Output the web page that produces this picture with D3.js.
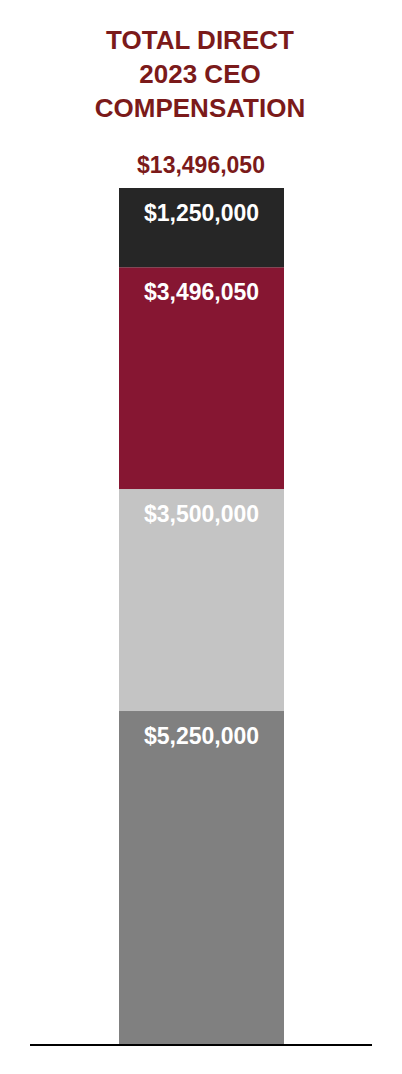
<!DOCTYPE html>
<html>
<head>
<meta charset="utf-8">
<script src="https://cdn.jsdelivr.net/npm/d3@7"></script>
<style>
html,body{margin:0;padding:0;background:#fff;}
svg{display:block;}
</style>
</head>
<body>
<script>
const titleLines = ["TOTAL DIRECT", "2023 CEO", "COMPENSATION"];
const categories = ["Segment 1", "Segment 2", "Segment 3", "Segment 4"];
const values = [5250000, 3500000, 3496050, 1250000];
const colors = ["#808080", "#c4c4c4", "#861632", "#262626"];
const totalLabel = "$13,496,050";

const W = 402, H = 1074;
const svg = d3.select("body").append("svg").attr("width", W).attr("height", H);

const total = d3.sum(values);
const y = d3.scaleLinear().domain([0, total]).range([1044, 188]);
const x = d3.scaleBand().domain(["CEO"]).range([30, 372]).paddingInner(0).paddingOuter(0.26);

let cum = 0;
const stacked = values.map((v, i) => { const s = {cat: categories[i], v, y0: cum, y1: cum + v, c: colors[i]}; cum += v; return s; });

const fmt = d => "$" + d3.format(",")(d);
const font = "'Liberation Sans', Arial, Helvetica, sans-serif";

const bx = 119, bw = 165;
svg.selectAll("rect.seg").data(stacked).enter().append("rect")
  .attr("class", "seg")
  .attr("x", bx).attr("width", bw)
  .attr("y", d => y(d.y1)).attr("height", d => y(d.y0) - y(d.y1))
  .attr("fill", d => d.c);

svg.selectAll("text.seg").data(stacked).enter().append("text")
  .attr("x", bx + bw / 2).attr("y", d => y(d.y1) + 33)
  .attr("text-anchor", "middle")
  .attr("font-family", font).attr("font-weight", "bold").attr("font-size", 23)
  .attr("fill", "#ffffff")
  .text(d => fmt(d.v));

svg.append("text").attr("x", 201).attr("y", 173)
  .attr("text-anchor", "middle")
  .attr("font-family", font).attr("font-weight", "bold").attr("font-size", 23)
  .attr("fill", "#7b1a1a").text(totalLabel);

svg.selectAll("text.title").data(titleLines).enter().append("text")
  .attr("x", 200).attr("y", (d, i) => 49 + i * 34)
  .attr("text-anchor", "middle")
  .attr("font-family", font).attr("font-weight", "bold").attr("font-size", 26)
  .attr("fill", "#7b1a1a").text(d => d);

svg.append("line").attr("x1", 30).attr("x2", 372).attr("y1", 1045).attr("y2", 1045)
  .attr("stroke", "#000").attr("stroke-width", 2);
</script>
</body>
</html>
